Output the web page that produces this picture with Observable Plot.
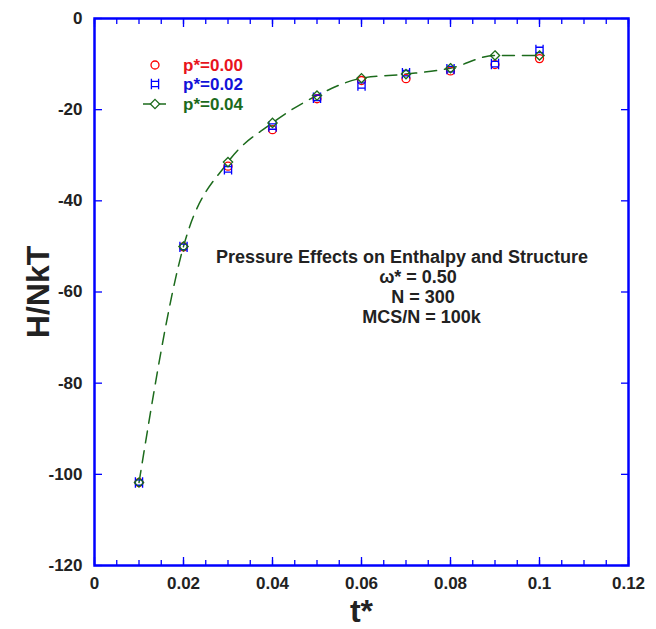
<!DOCTYPE html>
<html><head><meta charset="utf-8">
<script src="https://cdn.jsdelivr.net/npm/d3@7"></script>
<script src="https://cdn.jsdelivr.net/npm/@observablehq/plot@0.6"></script>
<style>
body{margin:0;background:#fff;}
#chart svg{font-family:"Liberation Sans",Arial,sans-serif;background:#fff;}
</style>
</head><body><div id="chart"></div>
<script>
// ---- data ----
const tStar = [0.01, 0.02, 0.03, 0.04, 0.05, 0.06, 0.07, 0.08, 0.09, 0.10];
const hP000 = [-101.8, -50.1, -32.4, -24.4, -17.6, -13.6, -13.2, -11.5, -10.1, -8.8];
const hP002 = [-101.8, -50.1, -33.1, -23.7, -17.4, -14.7, -12.0, -11.1, -10.0, -6.9];
const hP004 = [-101.8, -50.0, -31.5, -22.9, -16.9, -13.1, -12.2, -10.9, -8.1, -8.1];
const seriesLabels = ["p*=0.00", "p*=0.02", "p*=0.04"];
const seriesColors = ["#ff0000", "#0000ff", "#1c6b1c"];
const legendTextColors = ["#e8141c", "#1212d8", "#1c6b1c"];
const xTicks = [0, 0.02, 0.04, 0.06, 0.08, 0.1, 0.12];
const xMinorTicks = [0,0.005,0.01,0.015,0.02,0.025,0.03,0.035,0.04,0.045,0.05,0.055,0.06,0.065,0.07,0.075,0.08,0.085,0.09,0.095,0.1,0.105,0.11,0.115,0.12];
const yTicks = [0, -20, -40, -60, -80, -100, -120];
const xLabel = "t*";
const yLabel = "H/NkT";
const annotation = ["Pressure Effects on Enthalpy and Structure", "\u03c9* = 0.50", "N = 300", "MCS/N = 100k"];

// ---- symbols ----
const symSquareHandles = {draw(c, size){ const s = Math.sqrt(size/Math.PI), e = s*1.45;
  c.moveTo(-s,-e); c.lineTo(-s,e); c.moveTo(s,-e); c.lineTo(s,e);
  c.moveTo(-s,-s*0.75); c.lineTo(s,-s*0.75); c.moveTo(-s,s*0.75); c.lineTo(s,s*0.75); }};
const symDiamond = {draw(c, size){ const s = Math.sqrt(size/Math.PI)*1.1;
  c.moveTo(0,-s); c.lineTo(s,0); c.lineTo(0,s); c.lineTo(-s,0); c.closePath(); }};
const symbols = ["circle", symSquareHandles, symDiamond];
const symR = [4, 3.6, 4.2];

const rows = (vals) => tStar.map((t, i) => ({t, h: vals[i]}));
const s0 = rows(hP000), s1 = rows(hP002), s2 = rows(hP004);

const W = 656, H = 629, mL = 94, mR = 28, mT = 18, mB = 64;
const font = "Liberation Sans, Arial, sans-serif";

const legend = () => {
  const g = d3.create("svg:g").attr("font-family", font).attr("font-weight", "bold").attr("font-size", 17).attr("text-anchor", "start");
  const rowsY = [65, 84, 104];
  seriesLabels.forEach((lab, i) => {
    const y = rowsY[i];
    if (i === 2) {
      g.append("line").attr("x1", mL + 49).attr("x2", mL + 75).attr("y1", y).attr("y2", y)
        .attr("stroke", seriesColors[i]).attr("stroke-width", 1.5).attr("stroke-dasharray", "9,5");
    }
    g.append("path").attr("transform", `translate(${mL + 61},${y})`)
      .attr("d", d3.symbol().type(symbols[i] === "circle" ? d3.symbolCircle : symbols[i]).size(Math.PI * symR[i] * symR[i])())
      .attr("fill", "white").attr("stroke", seriesColors[i]).attr("stroke-width", 1.3);
    g.append("text").attr("x", mL + 89).attr("y", y).attr("dy", "0.35em").attr("text-anchor", "start")
      .attr("fill", legendTextColors[i]).text(lab);
  });
  return g.node();
};

const dotOpts = (i) => ({x: "t", y: "h", r: symR[i], symbol: symbols[i], stroke: seriesColors[i], strokeWidth: 1.3, fill: "none"});
const annOpts = (dx, dy) => ({frameAnchor: "top-left", dx, dy, textAnchor: "middle", lineAnchor: "middle", fontSize: 18, fontWeight: "bold", fill: "#222"});

const chart = Plot.plot({
  width: W, height: H,
  marginLeft: mL, marginRight: mR, marginTop: mT, marginBottom: mB,
  style: {fontFamily: font, background: "white"},
  x: {domain: [0, 0.12]},
  y: {domain: [-120, 0]},
  marks: [
    Plot.line(s2, {x: "t", y: "h", curve: "monotone-x", stroke: "#1c6b1c", strokeWidth: 1.5, strokeDasharray: "12,8"}),
    Plot.dot(s0, dotOpts(0)),
    Plot.dot(s1, dotOpts(1)),
    Plot.dot(s2, dotOpts(2)),
    // axis ticks (inward)
    Plot.axisX({anchor: "bottom", ticks: xMinorTicks, tickSize: -5, tickFormat: () => "", stroke: "blue", strokeWidth: 1.3, label: null}),
    Plot.axisX({anchor: "bottom", ticks: xTicks, tickSize: -8, tickFormat: () => "", stroke: "blue", strokeWidth: 1.3, label: null}),
    Plot.axisX({anchor: "top", ticks: xMinorTicks, tickSize: -5, tickFormat: () => "", stroke: "blue", strokeWidth: 1.3, label: null}),
    Plot.axisX({anchor: "top", ticks: xTicks, tickSize: -8, tickFormat: () => "", stroke: "blue", strokeWidth: 1.3, label: null}),
    Plot.axisY({anchor: "left", ticks: yTicks, tickSize: -8, tickFormat: () => "", stroke: "blue", strokeWidth: 1.3, label: null}),
    Plot.axisY({anchor: "right", ticks: yTicks, tickSize: -8, tickFormat: () => "", stroke: "blue", strokeWidth: 1.3, label: null}),
    // tick labels
    Plot.axisX({anchor: "bottom", ticks: xTicks, tickSize: 0, tickPadding: 11, tickFormat: d => String(d), fill: "#222", fontSize: 17, fontWeight: "bold", label: null}),
    Plot.axisY({anchor: "left", ticks: yTicks, tickSize: 0, tickPadding: 12, tickFormat: d => String(d), fill: "#222", fontSize: 17, fontWeight: "bold", label: null}),
    Plot.frame({stroke: "blue", strokeWidth: 2.5}),
    // axis titles
    Plot.text([xLabel], {frameAnchor: "bottom", dy: 46, textAnchor: "middle", lineAnchor: "middle", fontSize: 32, fontWeight: "bold", fill: "#222"}),
    Plot.text([yLabel], {frameAnchor: "left", dx: -56, rotate: -90, textAnchor: "middle", lineAnchor: "middle", fontSize: 32, fontWeight: "bold", fill: "#222"}),
    // annotation
    Plot.text([annotation[0]], annOpts(307.5, 239)),
    Plot.text([annotation[1]], annOpts(323.5, 259)),
    Plot.text([annotation[2]], annOpts(328.5, 279)),
    Plot.text([annotation[3]], annOpts(327, 299)),
    legend
  ]
});
document.getElementById("chart").appendChild(chart);
</script>
</body></html>
